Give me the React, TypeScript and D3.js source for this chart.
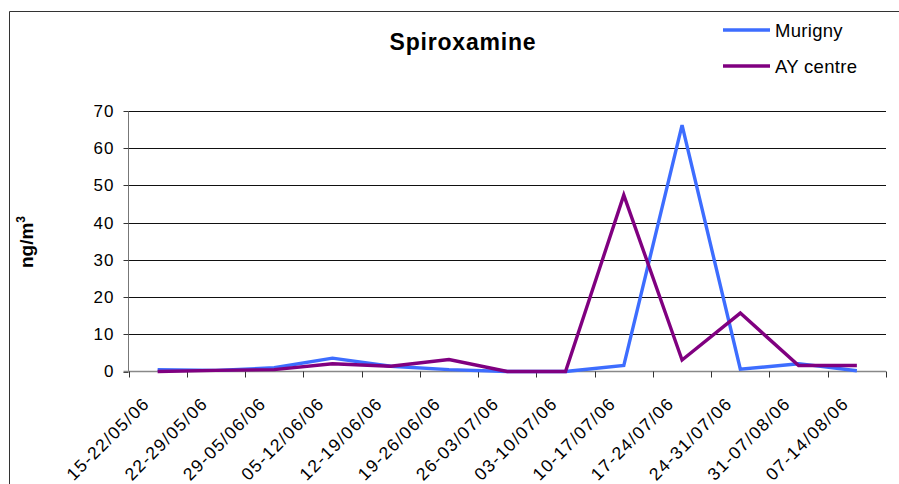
import React, { useEffect, useRef } from "react";
import * as d3 from "d3";

const width = 899;
const height = 484;
const marginTop = 111;
const marginLeft = 128.5;
const plotRight = 886;
const plotBottom = 371.5;

const categories = [
  "15-22/05/06",
  "22-29/05/06",
  "29-05/06/06",
  "05-12/06/06",
  "12-19/06/06",
  "19-26/06/06",
  "26-03/07/06",
  "03-10/07/06",
  "10-17/07/06",
  "17-24/07/06",
  "24-31/07/06",
  "31-07/08/06",
  "07-14/08/06",
];
const murigny = [0.5, 0.3, 1, 3.6, 1.4, 0.5, 0, 0, 1.6, 66.2, 0.6, 2.1, 0.2];
const ayCentre = [0, 0.3, 0.5, 2.1, 1.4, 3.2, 0, 0, 47.4, 3.1, 15.7, 1.6, 1.6];
const yTicks = [0, 10, 20, 30, 40, 50, 60, 70];

const series = [
  { name: "Murigny", values: murigny, color: "#3d6dff" },
  { name: "AY centre", values: ayCentre, color: "#800080" },
];

export default function App() {
  const ref = useRef<SVGSVGElement>(null);

  useEffect(() => {
    const svg = d3.select(ref.current);
    svg.selectAll("*").remove();
    const font = "Arial, 'Liberation Sans', sans-serif";

    const x = d3.scaleBand().domain(categories).range([marginLeft, plotRight]).paddingInner(0);
    const y = d3.scaleLinear().domain([0, 70]).range([plotBottom, marginTop]);
    const cx = (c: string) => (x(c) as number) + x.bandwidth() / 2;

    // cadre du graphique
    svg
      .append("path")
      .attr("d", `M9.5,${height}V11.5H${width}`)
      .attr("fill", "none")
      .attr("stroke", "#333")
      .attr("stroke-width", 1);

    // grille horizontale
    svg
      .append("g")
      .selectAll("line")
      .data(yTicks.filter(d => d > 0))
      .join("line")
      .attr("x1", marginLeft)
      .attr("x2", plotRight)
      .attr("y1", d => Math.round(y(d)) + 0.5)
      .attr("y2", d => Math.round(y(d)) + 0.5)
      .attr("stroke", "#111")
      .attr("shape-rendering", "crispEdges");

    // axe Y
    const yAxis = svg.append("g").attr("transform", `translate(${marginLeft},0)`);
    yAxis
      .append("line")
      .attr("y1", marginTop)
      .attr("y2", plotBottom)
      .attr("stroke", "#777");
    yAxis
      .selectAll("line.tick")
      .data(yTicks)
      .join("line")
      .attr("class", "tick")
      .attr("x1", -5)
      .attr("x2", 0)
      .attr("y1", d => Math.round(y(d)) + 0.5)
      .attr("y2", d => Math.round(y(d)) + 0.5)
      .attr("stroke", "#333");
    yAxis
      .selectAll("text")
      .data(yTicks)
      .join("text")
      .attr("x", -14)
      .attr("y", d => y(d))
      .attr("dy", "0.35em")
      .attr("text-anchor", "end")
      .attr("font-family", font)
      .attr("font-size", 17)
      .attr("letter-spacing", 1)
      .attr("fill", "#000")
      .text(d => d);

    // axe X
    const xAxis = svg.append("g");
    xAxis
      .append("line")
      .attr("x1", marginLeft - 5)
      .attr("x2", plotRight)
      .attr("y1", plotBottom)
      .attr("y2", plotBottom)
      .attr("stroke", "#888")
      .attr("stroke-width", 1.5);
    const boundaries = categories.map(c => x(c) as number).concat([plotRight]);
    xAxis
      .selectAll("line.tick")
      .data(boundaries)
      .join("line")
      .attr("class", "tick")
      .attr("x1", d => Math.round(d) + 0.5)
      .attr("x2", d => Math.round(d) + 0.5)
      .attr("y1", plotBottom)
      .attr("y2", plotBottom + 6)
      .attr("stroke", "#333");
    xAxis
      .selectAll("text")
      .data(categories)
      .join("text")
      .attr("transform", d => `translate(${cx(d) - 7},${plotBottom + 33}) rotate(-45)`)
      .attr("text-anchor", "end")
      .attr("font-family", font)
      .attr("font-size", 17.5)
      .attr("letter-spacing", 1.4)
      .attr("fill", "#000")
      .text(d => d);

    // courbes
    const line = d3
      .line<number>()
      .x((_, i) => cx(categories[i]))
      .y(d => y(d));
    svg
      .append("g")
      .selectAll("path")
      .data(series)
      .join("path")
      .attr("d", d => line(d.values))
      .attr("fill", "none")
      .attr("stroke", d => d.color)
      .attr("stroke-width", 3.4)
      .attr("stroke-linejoin", "miter");

    // titre
    svg
      .append("text")
      .attr("x", 463)
      .attr("y", 49.5)
      .attr("text-anchor", "middle")
      .attr("font-family", font)
      .attr("font-weight", "bold")
      .attr("font-size", 23)
      .attr("letter-spacing", 0.8)
      .text("Spiroxamine");

    // titre de l'axe Y
    const yt = svg
      .append("text")
      .attr("transform", `translate(33,242) rotate(-90)`)
      .attr("text-anchor", "middle")
      .attr("font-family", font)
      .attr("font-weight", "bold")
      .attr("font-size", 19);
    yt.append("tspan").text("ng/m");
    yt.append("tspan").attr("font-size", 12).attr("dy", -8).text("3");

    // légende
    const legend = svg
      .append("g")
      .selectAll("g")
      .data(series)
      .join("g")
      .attr("transform", (_, i) => `translate(723,${30 + i * 36})`);
    legend
      .append("line")
      .attr("x1", 0)
      .attr("x2", 47)
      .attr("stroke", d => d.color)
      .attr("stroke-width", 3.4);
    legend
      .append("text")
      .attr("x", 52)
      .attr("y", 6.7)
      .attr("font-family", font)
      .attr("font-size", 18.5)
      .attr("letter-spacing", 0.3)
      .text(d => d.name);
  }, []);

  return (
    <svg
      ref={ref}
      width={width}
      height={height}
      viewBox={`0 0 ${width} ${height}`}
      style={{ position: "absolute", left: 0, top: 0, background: "#fff" }}
    ></svg>
  );
}
